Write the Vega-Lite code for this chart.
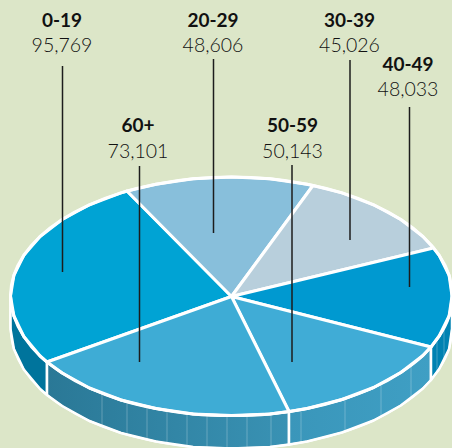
{"$schema":"https://vega.github.io/schema/vega-lite/v6.json","width":452,"height":448,"padding":0,"autosize":{"type":"none"},"background":"#dce6c8","config":{"view":{"stroke":null},"axis":{"disable":true}},
"datasets":{
"walls":[
{"p":"0-19","i":1,"x":10.5,"y":296},{"p":"0-19","i":2,"x":13.9,"y":316},{"p":"0-19","i":3,"x":23.8,"y":336.5},{"p":"0-19","i":4,"x":40.1,"y":356},{"p":"0-19","i":5,"x":47,"y":362},{"p":"0-19","i":6,"x":47,"y":395},{"p":"0-19","i":7,"x":40.1,"y":389},{"p":"0-19","i":8,"x":23.8,"y":369.5},{"p":"0-19","i":9,"x":13.9,"y":349},{"p":"0-19","i":10,"x":10.5,"y":329},
{"p":"60+","i":1,"x":47,"y":362},{"p":"60+","i":2,"x":62.2,"y":373},{"p":"60+","i":3,"x":89.4,"y":388},{"p":"60+","i":4,"x":121,"y":400},{"p":"60+","i":5,"x":155.9,"y":408.5},{"p":"60+","i":6,"x":193.1,"y":414},{"p":"60+","i":7,"x":231.5,"y":415.5},{"p":"60+","i":8,"x":269.9,"y":414},{"p":"60+","i":9,"x":289,"y":411.5},{"p":"60+","i":10,"x":289,"y":444.5},{"p":"60+","i":11,"x":269.9,"y":447},{"p":"60+","i":12,"x":231.5,"y":448.5},{"p":"60+","i":13,"x":193.1,"y":447},{"p":"60+","i":14,"x":155.9,"y":441.5},{"p":"60+","i":15,"x":121,"y":433},{"p":"60+","i":16,"x":89.4,"y":421},{"p":"60+","i":17,"x":62.2,"y":406},{"p":"60+","i":18,"x":47,"y":395},
{"p":"50-59","i":1,"x":289,"y":411.5},{"p":"50-59","i":2,"x":307.1,"y":408.5},{"p":"50-59","i":3,"x":342,"y":399.5},{"p":"50-59","i":4,"x":373.6,"y":387.5},{"p":"50-59","i":5,"x":400.8,"y":372.5},{"p":"50-59","i":6,"x":422.9,"y":355.5},{"p":"50-59","i":7,"x":431,"y":347},{"p":"50-59","i":8,"x":431,"y":380},{"p":"50-59","i":9,"x":422.9,"y":388.5},{"p":"50-59","i":10,"x":400.8,"y":405.5},{"p":"50-59","i":11,"x":373.6,"y":420.5},{"p":"50-59","i":12,"x":342,"y":432.5},{"p":"50-59","i":13,"x":307.1,"y":441.5},{"p":"50-59","i":14,"x":289,"y":444.5},
{"p":"40-49","i":1,"x":431,"y":347},{"p":"40-49","i":2,"x":439.2,"y":336},{"p":"40-49","i":3,"x":449.1,"y":316},{"p":"40-49","i":4,"x":452,"y":296},{"p":"40-49","i":5,"x":452,"y":329},{"p":"40-49","i":6,"x":449.1,"y":349},{"p":"40-49","i":7,"x":439.2,"y":369},{"p":"40-49","i":8,"x":431,"y":380}
],
"slices":[
{"p":"0-19","i":1,"x":231.5,"y":296.5},{"p":"0-19","i":2,"x":127,"y":191},{"p":"0-19","i":3,"x":121,"y":192.9},{"p":"0-19","i":4,"x":89.4,"y":204.8},{"p":"0-19","i":5,"x":62.2,"y":219.5},{"p":"0-19","i":6,"x":40.1,"y":236.5},{"p":"0-19","i":7,"x":23.8,"y":255.3},{"p":"0-19","i":8,"x":13.9,"y":275.3},{"p":"0-19","i":9,"x":10.5,"y":296},{"p":"0-19","i":10,"x":13.9,"y":316},{"p":"0-19","i":11,"x":23.8,"y":336.5},{"p":"0-19","i":12,"x":40.1,"y":356},{"p":"0-19","i":13,"x":47,"y":362},
{"p":"20-29","i":1,"x":231.5,"y":296.5},{"p":"20-29","i":2,"x":313,"y":185.5},{"p":"20-29","i":3,"x":307.1,"y":184.2},{"p":"20-29","i":4,"x":269.9,"y":178.8},{"p":"20-29","i":5,"x":231.5,"y":177},{"p":"20-29","i":6,"x":193.1,"y":178.8},{"p":"20-29","i":7,"x":155.9,"y":184.2},{"p":"20-29","i":8,"x":127,"y":191},
{"p":"30-39","i":1,"x":231.5,"y":296.5},{"p":"30-39","i":2,"x":433.5,"y":248},{"p":"30-39","i":3,"x":422.9,"y":236.5},{"p":"30-39","i":4,"x":400.8,"y":219.5},{"p":"30-39","i":5,"x":373.6,"y":204.8},{"p":"30-39","i":6,"x":342,"y":192.9},{"p":"30-39","i":7,"x":313,"y":185.5},
{"p":"40-49","i":1,"x":231.5,"y":296.5},{"p":"40-49","i":2,"x":431,"y":347},{"p":"40-49","i":3,"x":439.2,"y":336},{"p":"40-49","i":4,"x":449.1,"y":316},{"p":"40-49","i":5,"x":452,"y":296},{"p":"40-49","i":6,"x":449.1,"y":275.3},{"p":"40-49","i":7,"x":439.2,"y":255.3},{"p":"40-49","i":8,"x":433.5,"y":248},
{"p":"50-59","i":1,"x":231.5,"y":296.5},{"p":"50-59","i":2,"x":289,"y":411.5},{"p":"50-59","i":3,"x":307.1,"y":408.5},{"p":"50-59","i":4,"x":342,"y":399.5},{"p":"50-59","i":5,"x":373.6,"y":387.5},{"p":"50-59","i":6,"x":400.8,"y":372.5},{"p":"50-59","i":7,"x":422.9,"y":355.5},{"p":"50-59","i":8,"x":431,"y":347},
{"p":"60+","i":1,"x":231.5,"y":296.5},{"p":"60+","i":2,"x":47,"y":362},{"p":"60+","i":3,"x":62.2,"y":373},{"p":"60+","i":4,"x":89.4,"y":388},{"p":"60+","i":5,"x":121,"y":400},{"p":"60+","i":6,"x":155.9,"y":408.5},{"p":"60+","i":7,"x":193.1,"y":414},{"p":"60+","i":8,"x":231.5,"y":415.5},{"p":"60+","i":9,"x":269.9,"y":414},{"p":"60+","i":10,"x":289,"y":411.5}
],
"rimTop":[
{"i":1,"x":452,"y":296},{"i":2,"x":449.1,"y":275.3},{"i":3,"x":439.2,"y":255.3},{"i":4,"x":422.9,"y":236.5},{"i":5,"x":400.8,"y":219.5},{"i":6,"x":373.6,"y":204.8},{"i":7,"x":342,"y":192.9},{"i":8,"x":307.1,"y":184.2},{"i":9,"x":269.9,"y":178.8},{"i":10,"x":231.5,"y":177},{"i":11,"x":193.1,"y":178.8},{"i":12,"x":155.9,"y":184.2},{"i":13,"x":121,"y":192.9},{"i":14,"x":89.4,"y":204.8},{"i":15,"x":62.2,"y":219.5},{"i":16,"x":40.1,"y":236.5},{"i":17,"x":23.8,"y":255.3},{"i":18,"x":13.9,"y":275.3},{"i":19,"x":10.5,"y":296},{"i":20,"x":13.9,"y":316},{"i":21,"x":23.8,"y":336.5},{"i":22,"x":40.1,"y":356},{"i":23,"x":62.2,"y":373},{"i":24,"x":89.4,"y":388},{"i":25,"x":121,"y":400},{"i":26,"x":155.9,"y":408.5},{"i":27,"x":193.1,"y":414},{"i":28,"x":231.5,"y":415.5},{"i":29,"x":269.9,"y":414},{"i":30,"x":307.1,"y":408.5},{"i":31,"x":342,"y":399.5},{"i":32,"x":373.6,"y":387.5},{"i":33,"x":400.8,"y":372.5},{"i":34,"x":422.9,"y":355.5},{"i":35,"x":439.2,"y":336},{"i":36,"x":449.1,"y":316},{"i":37,"x":452,"y":296}
],
"rimBottom":[
{"i":1,"x":10.5,"y":296},{"i":2,"x":10.5,"y":329},{"i":3,"x":13.9,"y":349},{"i":4,"x":23.8,"y":369.5},{"i":5,"x":40.1,"y":389},{"i":6,"x":62.2,"y":406},{"i":7,"x":89.4,"y":421},{"i":8,"x":121,"y":433},{"i":9,"x":155.9,"y":441.5},{"i":10,"x":193.1,"y":447},{"i":11,"x":231.5,"y":448},{"i":12,"x":269.9,"y":447},{"i":13,"x":307.1,"y":441.5},{"i":14,"x":342,"y":432.5},{"i":15,"x":373.6,"y":420.5},{"i":16,"x":400.8,"y":405.5},{"i":17,"x":422.9,"y":388.5},{"i":18,"x":439.2,"y":369},{"i":19,"x":449.1,"y":349},{"i":20,"x":452,"y":329}
],
"ribs":[
{"x":102,"y":394,"y2":426},{"x":127,"y":401,"y2":433},{"x":147,"y":406.5,"y2":438.5},{"x":167,"y":410,"y2":442},{"x":187,"y":413.5,"y2":445},{"x":207,"y":415,"y2":447},{"x":227,"y":415.5,"y2":448},{"x":247,"y":415,"y2":448},{"x":271,"y":414,"y2":446},{"x":301,"y":409.5,"y2":442},{"x":345,"y":398.5,"y2":431},{"x":381,"y":384,"y2":416},{"x":411,"y":365,"y2":397},{"x":437,"y":339,"y2":371},{"x":444,"y":326,"y2":358}
],
"groups":[
{"age":"0-19","population":95769,"lx":62,"ly1":27,"ly2":52,"lead":62.5,"y1":66,"y2":272},
{"age":"20-29","population":48606,"lx":213,"ly1":27,"ly2":52,"lead":213.5,"y1":59,"y2":233},
{"age":"30-39","population":45026,"lx":349.5,"ly1":27,"ly2":52,"lead":350,"y1":60,"y2":240},
{"age":"40-49","population":48033,"lx":408,"ly1":71,"ly2":96,"lead":409.5,"y1":107,"y2":287},
{"age":"50-59","population":50143,"lx":292.5,"ly1":132,"ly2":158,"lead":292,"y1":165,"y2":362},
{"age":"60+","population":73101,"lx":138,"ly1":132,"ly2":158,"lead":139.5,"y1":166,"y2":362}
]},
"resolve":{"scale":{"x":"shared","y":"shared"}},
"layer":[
{"data":{"name":"walls"},"transform":[{"filter":"datum.p=='0-19'"}],"mark":{"type":"line","filled":true,"interpolate":"linear-closed","fill":"#00749c","stroke":"white","strokeWidth":2.5,"strokeJoin":"round"},"encoding":{"x":{"field":"x","type":"quantitative","scale":{"domain":[0,452],"nice":false,"zero":false},"axis":null},"y":{"field":"y","type":"quantitative","scale":{"domain":[448,0],"nice":false,"zero":false},"axis":null},"order":{"field":"i"}}},
{"data":{"name":"walls"},"transform":[{"filter":"datum.p=='60+'"}],"mark":{"type":"line","filled":true,"interpolate":"linear-closed","fill":{"gradient":"linear","x1":0,"x2":1,"y1":0,"y2":0,"stops":[{"offset":0,"color":"#2a7896"},{"offset":1,"color":"#3992b4"}]},"stroke":"white","strokeWidth":2.5,"strokeJoin":"round"},"encoding":{"x":{"field":"x","type":"quantitative","scale":{"domain":[0,452],"nice":false,"zero":false},"axis":null},"y":{"field":"y","type":"quantitative","scale":{"domain":[448,0],"nice":false,"zero":false},"axis":null},"order":{"field":"i"}}},
{"data":{"name":"walls"},"transform":[{"filter":"datum.p=='50-59'"}],"mark":{"type":"line","filled":true,"interpolate":"linear-closed","fill":{"gradient":"linear","x1":0,"x2":1,"y1":0,"y2":0,"stops":[{"offset":0,"color":"#3a96ba"},{"offset":1,"color":"#3f9fc4"}]},"stroke":"white","strokeWidth":2.5,"strokeJoin":"round"},"encoding":{"x":{"field":"x","type":"quantitative","scale":{"domain":[0,452],"nice":false,"zero":false},"axis":null},"y":{"field":"y","type":"quantitative","scale":{"domain":[448,0],"nice":false,"zero":false},"axis":null},"order":{"field":"i"}}},
{"data":{"name":"walls"},"transform":[{"filter":"datum.p=='40-49'"}],"mark":{"type":"line","filled":true,"interpolate":"linear-closed","fill":"#0082b2","stroke":"white","strokeWidth":2.5,"strokeJoin":"round"},"encoding":{"x":{"field":"x","type":"quantitative","scale":{"domain":[0,452],"nice":false,"zero":false},"axis":null},"y":{"field":"y","type":"quantitative","scale":{"domain":[448,0],"nice":false,"zero":false},"axis":null},"order":{"field":"i"}}},
{"data":{"name":"ribs"},"mark":{"type":"rule","color":"white","opacity":0.25,"strokeWidth":1},"encoding":{"x":{"field":"x","type":"quantitative","scale":{"domain":[0,452],"nice":false,"zero":false},"axis":null},"y":{"field":"y","type":"quantitative","scale":{"domain":[448,0],"nice":false,"zero":false},"axis":null},"y2":{"field":"y2"}}},
{"data":{"name":"slices"},"mark":{"type":"line","filled":true,"interpolate":"linear-closed","stroke":"white","strokeWidth":3,"strokeJoin":"round"},"encoding":{"x":{"field":"x","type":"quantitative","scale":{"domain":[0,452],"nice":false,"zero":false},"axis":null},"y":{"field":"y","type":"quantitative","scale":{"domain":[448,0],"nice":false,"zero":false},"axis":null},"order":{"field":"i"},"detail":{"field":"p"},"fill":{"field":"p","type":"nominal","legend":null,"scale":{"domain":["0-19","20-29","30-39","40-49","50-59","60+"],"range":["#00a3d4","#88bfdb","#b8cfdc","#0099d0","#40acd6","#3eacd5"]}}}},
{"data":{"name":"rimTop"},"mark":{"type":"line","interpolate":"cardinal","color":"white","strokeWidth":3},"encoding":{"x":{"field":"x","type":"quantitative","scale":{"domain":[0,452],"nice":false,"zero":false},"axis":null},"y":{"field":"y","type":"quantitative","scale":{"domain":[448,0],"nice":false,"zero":false},"axis":null},"order":{"field":"i"}}},
{"data":{"name":"rimBottom"},"mark":{"type":"line","interpolate":"cardinal","color":"white","strokeWidth":2},"encoding":{"x":{"field":"x","type":"quantitative","scale":{"domain":[0,452],"nice":false,"zero":false},"axis":null},"y":{"field":"y","type":"quantitative","scale":{"domain":[448,0],"nice":false,"zero":false},"axis":null},"order":{"field":"i"}}},
{"data":{"name":"groups"},"mark":{"type":"rule","color":"#1c1c1c","strokeWidth":1.5},"encoding":{"x":{"field":"lead","type":"quantitative","scale":{"domain":[0,452],"nice":false,"zero":false},"axis":null},"y":{"field":"y1","type":"quantitative","scale":{"domain":[448,0],"nice":false,"zero":false},"axis":null},"y2":{"field":"y2"}}},
{"data":{"name":"groups"},"mark":{"type":"text","font":"Lato","fontWeight":"bold","fontSize":19,"color":"#111111","align":"center","baseline":"alphabetic"},"encoding":{"x":{"field":"lx","type":"quantitative","scale":{"domain":[0,452],"nice":false,"zero":false},"axis":null},"y":{"field":"ly1","type":"quantitative","scale":{"domain":[448,0],"nice":false,"zero":false},"axis":null},"text":{"field":"age"}}},
{"data":{"name":"groups"},"mark":{"type":"text","font":"Lato","fontWeight":300,"fontSize":19.5,"color":"#111111","align":"center","baseline":"alphabetic"},"encoding":{"x":{"field":"lx","type":"quantitative","scale":{"domain":[0,452],"nice":false,"zero":false},"axis":null},"y":{"field":"ly2","type":"quantitative","scale":{"domain":[448,0],"nice":false,"zero":false},"axis":null},"text":{"field":"population","type":"quantitative","format":","}}}
]}
